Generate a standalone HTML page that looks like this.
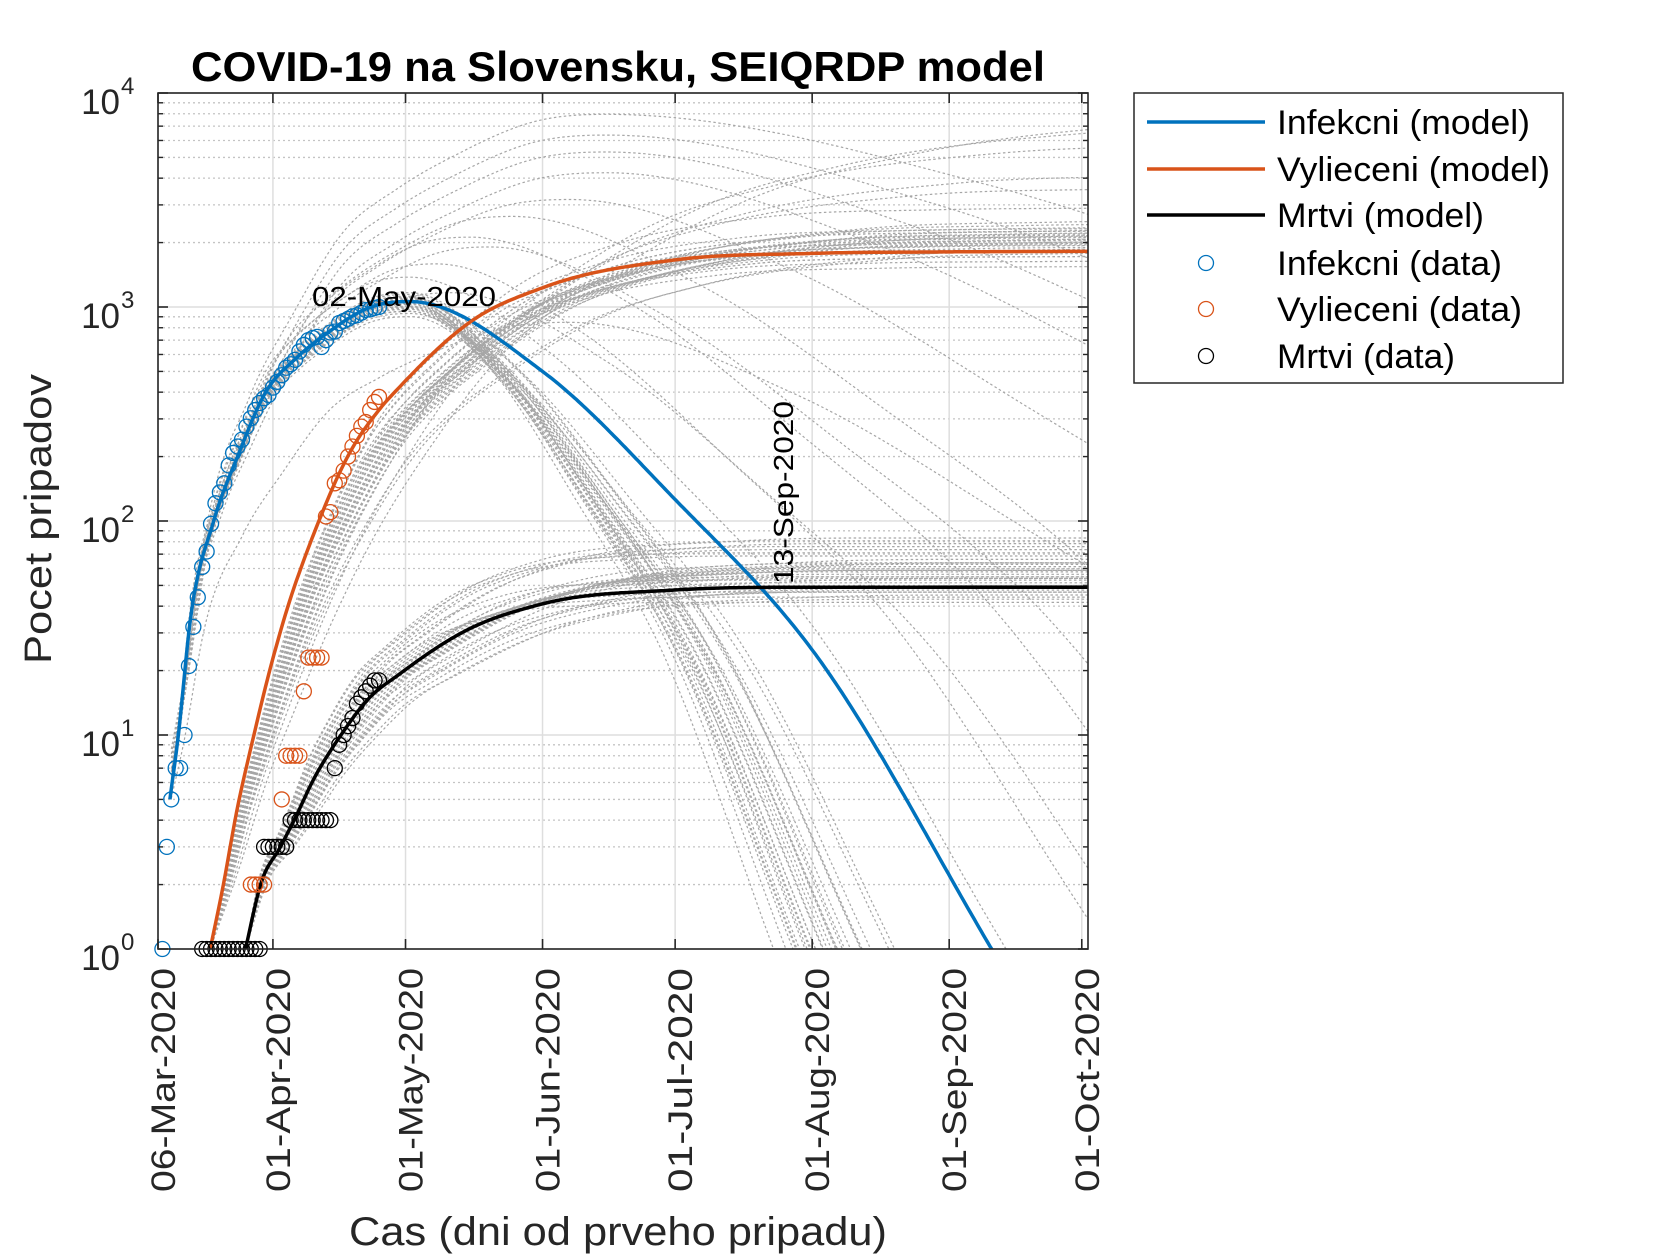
<!DOCTYPE html>
<html><head><meta charset="utf-8">
<style>
html,body{margin:0;padding:0;background:#fff;}
svg{display:block;font-family:"Liberation Sans",Arial,sans-serif;}
</style></head>
<body>
<svg id="chart" xmlns="http://www.w3.org/2000/svg" width="1680" height="1260" viewBox="0 0 1680 1260">
  <defs><clipPath id="plotclip"><rect x="158" y="93" width="930" height="856"/></clipPath></defs>
  <rect x="0" y="0" width="1680" height="1260" fill="#fff"/>
  <g id="grid"></g>
  <g id="ensemble" clip-path="url(#plotclip)"></g>
  <g id="models" clip-path="url(#plotclip)"></g>
  <g id="dataPts"></g>
  <g id="axes"></g>
  <text x="618" y="81" text-anchor="middle" font-size="42" font-weight="bold" textLength="854" lengthAdjust="spacingAndGlyphs">COVID-19 na Slovensku, SEIQRDP model</text>
  <text x="618" y="1245" text-anchor="middle" font-size="40" fill="#262626" textLength="538" lengthAdjust="spacingAndGlyphs">Cas (dni od prveho pripadu)</text>
  <text transform="translate(51,519) rotate(-90)" text-anchor="middle" font-size="38" fill="#262626" textLength="290" lengthAdjust="spacingAndGlyphs">Pocet pripadov</text>
  <text x="312" y="306" font-size="28" textLength="184" lengthAdjust="spacingAndGlyphs">02-May-2020</text>
  <text transform="translate(793,584) rotate(-90)" font-size="28" textLength="183" lengthAdjust="spacingAndGlyphs">13-Sep-2020</text>
  <g>
    <rect x="1134" y="93" width="429" height="290" fill="#fff" stroke="#262626" stroke-width="1.5"/>
    <line x1="1147" y1="122" x2="1265" y2="122" stroke="#0072BD" stroke-width="3.5"/>
    <text x="1277" y="134" font-size="34" textLength="253" lengthAdjust="spacingAndGlyphs">Infekcni (model)</text>
    <line x1="1147" y1="169" x2="1265" y2="169" stroke="#D95319" stroke-width="3.5"/>
    <text x="1277" y="181" font-size="34" textLength="273" lengthAdjust="spacingAndGlyphs">Vylieceni (model)</text>
    <line x1="1147" y1="215" x2="1265" y2="215" stroke="#000" stroke-width="3.5"/>
    <text x="1277" y="227" font-size="34" textLength="207" lengthAdjust="spacingAndGlyphs">Mrtvi (model)</text>
    <circle cx="1206" cy="263" r="7.5" fill="none" stroke="#0072BD" stroke-width="1.3"/>
    <text x="1277" y="275" font-size="34" textLength="225" lengthAdjust="spacingAndGlyphs">Infekcni (data)</text>
    <circle cx="1206" cy="309" r="7.5" fill="none" stroke="#D95319" stroke-width="1.3"/>
    <text x="1277" y="321" font-size="34" textLength="245" lengthAdjust="spacingAndGlyphs">Vylieceni (data)</text>
    <circle cx="1206" cy="356" r="7.5" fill="none" stroke="#000" stroke-width="1.3"/>
    <text x="1277" y="368" font-size="34" textLength="178" lengthAdjust="spacingAndGlyphs">Mrtvi (data)</text>
  </g>
</svg>
<script>
// ---- data (days since 06-Mar-2020) ----
const tickDays = [0, 26, 56, 87, 117, 148, 179, 209];
const tickLabels = ["06-Mar-2020","01-Apr-2020","01-May-2020","01-Jun-2020","01-Jul-2020","01-Aug-2020","01-Sep-2020","01-Oct-2020"];
const yDecades = [0, 1, 2, 3, 4];

const infKnotDays = [2.7, 4.6, 7.2, 12.6, 18, 24.3, 31, 38.3, 48.2, 57, 87, 117, 148, 188.6, 212];
const infKnotVals = [5, 10, 33, 100, 200, 398, 570, 756, 1000, 1060, 500, 126, 25, 1, 0.15];
const recKnotDays = [11.8, 14.8, 17.9, 20.9, 24.7, 27.8, 36.4, 42.9, 50.5, 55, 71.3, 87, 117, 148, 180, 212];
const recKnotVals = [1, 2, 4.5, 8.5, 18, 31, 100, 200, 340, 430, 870, 1230, 1660, 1780, 1810, 1820];
const deadKnotDays = [19.8, 23.2, 27.7, 30.8, 35.2, 41.4, 47.4, 55, 70, 87, 117, 148, 212];
const deadKnotVals = [1, 2, 3, 4, 6.2, 10, 14.6, 19.5, 31, 41, 47.6, 49, 49];

const infDataDays = [1,2,3,4,5,6,7,8,9,10,11,12,13,14,15,16,17,18,19,20,21,22,23,24,25,26,27,28,29,30,31,32,33,34,35,36,37,38,39,40,41,42,43,44,45,46,47,48,49,50];
const infDataVals = [1,3,5,7,7,10,21,32,44,61,72,97,121,136,150,182,208,223,240,276,302,330,356,375,388,420,447,480,520,540,566,620,665,700,716,725,650,700,760,767,842,860,880,904,915,940,968,975,990,1000];
const recDataDays = [21,22,23,24,28,29,30,31,32,33,34,35,36,37,38,39,40,41,42,43,44,45,46,47,48,49,50];
const recDataVals = [2,2,2,2,5,8,8,8,8,16,23,23,23,23,105,110,150,155,172,200,223,250,276,290,330,360,380];
const deadDataDays = [10,11,12,13,14,15,16,17,18,19,20,21,22,23,24,25,26,27,28,29,30,31,32,33,34,35,36,37,38,39,40,41,42,43,44,45,46,47,48,49,50];
const deadDataVals = [1,1,1,1,1,1,1,1,1,1,1,1,1,1,3,3,3,3,3,3,4,4,4,4,4,4,4,4,4,4,7,9,10,11,12,14,15,16,17,18,18];

// ensemble variants: amplitude factor + time-stretch factor
const infAmp   = [0.85,0.9,0.95,1.0,1.05,1.1,0.9,0.95,1.0,1.05,0.88,0.92,0.97,1.02,1.08,0.93,0.98,1.0,1.04,0.9,0.95,1.0,1.06,0.9,0.94,1.03,0.97,1.01,1.5,2.0,2.5,3.0,4.0,5.0,6.0,7.5,1.3,1.8,1.1,0.8];
const infDecay = [1.3,1.35,1.4,1.45,1.5,1.3,1.25,1.5,1.6,1.4,1.2,1.35,1.45,1.55,1.3,1.4,1.5,1.2,1.35,1.45,1.28,1.38,1.48,1.42,1.33,1.37,1.43,1.52,0.9,0.8,0.7,0.6,0.5,0.45,0.4,0.35,1.0,0.75,0.85,0.6];
const recAmp   = [0.9,0.95,1.0,1.05,1.1,1.15,1.2,1.25,1.3,1.0,1.1,1.2,1.05,1.15,1.25,0.95,1.35,1.4,1.18,1.22,1.08,1.12,1.28,0.85,1.02,1.07,1.13,1.17,1.23,1.27,2.0,2.3,3.2,4.0,4.5,1.6];
const recStretch=[1.1,1.15,1.2,1.25,1.3,1.35,1.4,1.2,1.3,1.45,1.1,1.25,1.5,1.3,1.2,1.15,1.35,1.4,1.25,1.3,1.2,1.35,1.15,1.1,1.12,1.18,1.22,1.28,1.32,1.38,1.5,1.6,1.7,1.9,2.1,1.2];
const deadAmp  = [0.85,0.9,0.95,1.0,1.05,1.1,1.15,1.2,1.25,1.3,1.35,1.4,1.5,1.6,0.88,0.92,1.02,1.08,1.12,1.18,1.22,1.28,1.45,1.55,0.95,1.0,1.1,1.3,1.65,1.7,1.12,1.2,1.3,0.97];
const deadStretch=[0.8,0.85,0.9,0.95,1.0,1.05,1.1,1.15,1.2,1.25,1.3,0.9,1.0,1.1,1.2,1.3,1.4,0.85,0.95,1.05,1.15,1.25,0.9,1.0,1.1,1.2,1.3,1.35,1.0,1.15,1.08,1.18,1.12,1.22];

// ---- axes ----
const X0 = 158, PXD = 4.42, YB = 949, PXDEC = 214, XR = 1088, YT = 93;
const xS = d => X0 + d * PXD;
const yS = v => YB - Math.log10(v) * PXDEC;
const NS = "http://www.w3.org/2000/svg";
function mk(tag, attrs, parent) {
  const e = document.createElementNS(NS, tag);
  for (const k in attrs) e.setAttribute(k, attrs[k]);
  parent.appendChild(e);
  return e;
}
// log-space cubic Hermite through knots (weighted slopes)
function makeCurve(days, vals) {
  const L = vals.map(v => Math.log10(v));
  const n = days.length, m = [];
  for (let i = 0; i < n; i++) {
    if (i === 0) m.push((L[1] - L[0]) / (days[1] - days[0]));
    else if (i === n - 1) m.push((L[n-1] - L[n-2]) / (days[n-1] - days[n-2]));
    else {
      const h0 = days[i] - days[i-1], h1 = days[i+1] - days[i];
      const a = (L[i] - L[i-1]) / h0, b = (L[i+1] - L[i]) / h1;
      m.push(a * b <= 0 ? 0 : (a * h1 + b * h0) / (h0 + h1));
    }
  }
  return function (d) {
    if (d < days[0]) return null;
    if (d >= days[n-1]) return L[n-1] + m[n-1] * (d - days[n-1]);
    let i = 0; while (d > days[i+1]) i++;
    const h = days[i+1] - days[i], t = (d - days[i]) / h;
    const h00 = 2*t*t*t - 3*t*t + 1, h10 = t*t*t - 2*t*t + t, h01 = -2*t*t*t + 3*t*t, h11 = t*t*t - t*t;
    return h00 * L[i] + h10 * h * m[i] + h01 * L[i+1] + h11 * h * m[i+1];
  };
}
const infC = makeCurve(infKnotDays, infKnotVals);
const recC = makeCurve(recKnotDays, recKnotVals);
const deadC = makeCurve(deadKnotDays, deadKnotVals);

function pathFrom(fn, d0) {
  let s = "";
  for (let d = d0; d <= 213; d += 0.5) {
    const L = fn(d);
    if (L === null) continue;
    const y = YB - L * PXDEC;
    if (y > 1300) { s += (s ? "L" : "M") + xS(d).toFixed(1) + "," + 1300; break; }
    s += (s ? "L" : "M") + xS(d).toFixed(1) + "," + Math.max(-200, y).toFixed(1);
  }
  return s;
}

const grid = document.getElementById("grid");
for (let e = 0; e < 4; e++) for (let k = 2; k <= 9; k++) {
  const y = yS(k * Math.pow(10, e));
  const l = mk("line", {x1: X0, x2: XR, y1: y, y2: y, stroke: "#c4c4c4", "stroke-width": 1.3, "stroke-dasharray": "2,3"}, grid);
  
  
}
yDecades.forEach(e => {
  const y = yS(Math.pow(10, e));
  const l = mk("line", {x1: X0, x2: XR, y1: y, y2: y, stroke: "#dedede", "stroke-width": 1.5}, grid);
  
  
});
tickDays.forEach(d => {
  const l = mk("line", {x1: xS(d), x2: xS(d), y1: YT, y2: YB, stroke: "#dedede", "stroke-width": 1.5}, grid);
  
  
});

// ensemble
const ens = document.getElementById("ensemble");
function ensLine(d, name) {
  const p = mk("path", {d: d, fill: "none", stroke: "#a6a6a6", "stroke-width": 1.2, "stroke-dasharray": "2.5,2.5"}, ens);
  
  
}
const peakDay = 57, peakL = infC(57);
infAmp.forEach((a, i) => {
  const dec = infDecay[i];
  let fn;
  if (dec >= 1) {
    fn = d => {
      if (d <= peakDay) { const b = infC(d); if (b === null) return null; return b + Math.log10(a) * Math.max(0, b) / peakL; }
      return infC(peakDay + (d - peakDay) * dec) + Math.log10(a);
    };
  } else {
    fn = d => { const dd = 2.7 + (d - 2.7) * Math.max(dec, 0.55); const b = infC(dd); if (b === null) return null;
      if (dd <= peakDay) return b + Math.log10(a) * Math.max(0, b) / peakL;
      return infC(peakDay + (dd - peakDay) * dec / Math.max(dec, 0.55)) + Math.log10(a); };
  }
  ensLine(pathFrom(fn, 2), 'infekcni-ensemble-curve');
});
const recMax = Math.log10(1820);
recAmp.forEach((a, i) => {
  const st = recStretch[i];
  const fn = d => { const dd = 11.8 + (d - 11.8) / st; const b = recC(dd); if (b === null) return null; return b + Math.log10(a) * Math.max(0, b) / recMax; };
  ensLine(pathFrom(fn, 11.8), 'vylieceni-ensemble-curve');
});
const deadMax = Math.log10(49);
deadAmp.forEach((a, i) => {
  const st = deadStretch[i];
  const fn = d => { const dd = 19.8 + (d - 19.8) / st; const b = deadC(dd); if (b === null) return null; return b + Math.log10(a) * Math.max(0, b) / deadMax; };
  ensLine(pathFrom(fn, 15), 'mrtvi-ensemble-curve');
});

// models
const models = document.getElementById("models");
[[infC, "#0072BD", "infekcni-model-line", 2.7], [recC, "#D95319", "vylieceni-model-line", 11.8], [deadC, "#000000", "mrtvi-model-line", 19.8]].forEach(m => {
  const p = mk("path", {d: pathFrom(m[0], m[3]), fill: "none", stroke: m[1], "stroke-width": 3.5}, models);
  
  
});

// data points
const dp = document.getElementById("dataPts");
function pts(days, vals, color, name) {
  days.forEach((d, i) => {
    const c = mk("circle", {cx: xS(d), cy: yS(vals[i]), r: 7.5, fill: "none", stroke: color, "stroke-width": 1.3}, dp);
    
    
  });
}
pts(infDataDays, infDataVals, "#0072BD", "infekcni-data-point");
pts(recDataDays, recDataVals, "#D95319", "vylieceni-data-point");
pts(deadDataDays, deadDataVals, "#000000", "mrtvi-data-point");

// axes box & ticks
const ax = document.getElementById("axes");
const box = mk("rect", {x: X0, y: YT, width: XR - X0, height: YB - YT, fill: "none", stroke: "#262626", "stroke-width": 1.6}, ax);


tickDays.forEach((d, i) => {
  const x = xS(d);
  mk("line", {x1: x, x2: x, y1: YB, y2: YB - 10, stroke: "#262626", "stroke-width": 1.6}, ax);
  mk("line", {x1: x, x2: x, y1: YT, y2: YT + 10, stroke: "#262626", "stroke-width": 1.6}, ax);
  const t = mk("text", {transform: "translate(" + (x + 17) + ",968) rotate(-90)", "text-anchor": "end", "font-size": 34, fill: "#262626", textLength: 224, lengthAdjust: "spacingAndGlyphs"}, ax);
  t.textContent = tickLabels[i];
  
  
});
for (let e = 0; e < 4; e++) for (let k = 2; k <= 9; k++) {
  const y = yS(k * Math.pow(10, e));
  mk("line", {x1: X0, x2: X0 + 5, y1: y, y2: y, stroke: "#262626", "stroke-width": 1.4}, ax);
  mk("line", {x1: XR, x2: XR - 5, y1: y, y2: y, stroke: "#262626", "stroke-width": 1.4}, ax);
}
yDecades.forEach(e => {
  const y = yS(Math.pow(10, e));
  mk("line", {x1: X0, x2: X0 + 10, y1: y, y2: y, stroke: "#262626", "stroke-width": 1.6}, ax);
  mk("line", {x1: XR, x2: XR - 10, y1: y, y2: y, stroke: "#262626", "stroke-width": 1.6}, ax);
  const t = mk("text", {x: 120, y: y + 21, "text-anchor": "end", "font-size": 35, fill: "#262626"}, ax);
  t.textContent = "10";
  
  
  const s = mk("text", {x: 121, y: y + 1, "font-size": 24, fill: "#262626"}, ax);
  s.textContent = String(e);
  
  
});
</script>
</body></html>
